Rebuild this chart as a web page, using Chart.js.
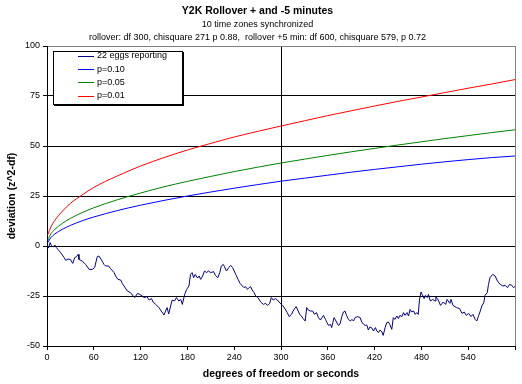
<!DOCTYPE html>
<html>
<head>
<meta charset="utf-8">
<script src="https://cdn.jsdelivr.net/npm/chart.js@4/dist/chart.umd.min.js"></script>
<style>
  html, body { margin: 0; padding: 0; background: #fff; }
  #wrap { width: 522px; height: 384px; }
</style>
</head>
<body>
<div id="wrap"><canvas id="c" width="522" height="384"></canvas></div>
<script>
// threshold curves
var curveDf = [1, 5, 10, 20, 30, 45, 60, 90, 120, 150, 180, 210, 240, 270, 300, 330, 360, 390, 420, 450, 480, 510, 540, 570, 600];
var p10 = [1.7, 4.2, 6.0, 8.4, 10.3, 12.6, 14.5, 17.7, 20.4, 22.8, 25.0, 27.0, 28.9, 30.7, 32.4, 33.9, 35.4, 36.9, 38.3, 39.6, 40.9, 42.1, 43.2, 44.2, 45.0];
var p05 = [2.8, 6.1, 8.3, 11.4, 13.8, 16.7, 19.1, 23.1, 26.5, 29.6, 32.3, 34.8, 37.2, 39.4, 41.5, 43.4, 45.3, 47.1, 48.8, 50.5, 52.1, 53.7, 55.2, 56.7, 58.1];
var p01 = [5.6, 9.5, 12.8, 17.5, 21.3, 25.5, 29.3, 35.0, 40.0, 44.2, 48.0, 51.3, 54.5, 57.3, 60.0, 62.6, 65.2, 67.6, 70.0, 72.3, 74.5, 76.7, 78.9, 81.0, 83.2];

// cumulative deviation of the eggs
var walkDf = [0, 2, 4, 5.5, 8, 10, 12, 14, 17.5, 22, 24, 27, 30, 33, 35.5, 38, 40, 41, 45, 49.5,
  54, 58, 61, 64.5, 66.5, 69.5, 73, 75, 79, 81.5, 86, 88, 91, 94.5, 96.5, 98.7, 103, 107, 110.5, 112.5,
  116, 119, 122, 124.5, 128, 131, 134, 136, 139.5, 143.5, 146.5, 150, 152, 154, 156, 158.5, 160.5, 163.5, 166, 169,
  171.5, 173.5, 176.5, 179, 182, 184, 186, 188, 190, 193, 195, 197, 199.5, 202, 204.5, 207, 210, 213.5, 216, 219,
  221.5, 223.5, 226, 227.5, 230, 233, 235.5, 238, 240, 242, 245, 247.5, 250.5, 252.5, 254.5, 257, 259, 261, 263, 265.5,
  267.5, 270.5, 274, 277.5, 280, 283, 285.5, 287.5, 290, 293, 295.5, 298.5, 302, 304.5, 308, 310.5, 313.5, 315.5, 317.5, 319.5,
  322, 324, 326, 328.5, 331, 333, 335, 337.5, 340.5, 343, 345.5, 348, 350.5, 352.5, 354.5, 357, 359, 361, 363.5, 365,
  366.5, 368, 370.5, 373.5, 375.5, 378, 380, 382, 384, 386.5, 389, 391, 393, 395, 398, 401.5, 403.5, 406, 408, 410,
  412, 414, 416, 418.5, 421, 423, 425, 427, 429.5, 431, 433.5, 435.5, 437.5, 439.5, 442, 444, 446, 448.5, 450.5, 452.5,
  455, 457, 459, 461.5, 463.5, 465.5, 467.5, 470, 472, 474, 476, 477.5, 479.5, 481, 483.5, 485, 487.5, 489, 491.5, 494.5,
  497.5, 498.5, 501.5, 504.5, 508, 511, 513, 516.5, 518, 520.5, 525, 529, 532, 535, 537.5, 540.5, 543.5, 546, 549, 551,
  553.5, 555.5, 557.5, 560, 561.5, 564.5, 566, 568, 571.5, 574.5, 577.5, 581, 584.5, 587.5, 590.5, 593, 596, 598, 600];
var walkDev = [0, -1, 1.7, 0.3, -0.5, 0.5, -0.8, -1.7, -3.3, -5.8, -7.2, -6.5, -6.7, -8.7, -5.8, -5.3, -4.2, -6.7, -7.5, -9.2,
  -11.7, -11.7, -10.8, -5.3, -5, -6.7, -9.2, -10, -10, -11.3, -13.3, -15, -16.7, -17, -18.7, -20, -22.5, -23.3, -25, -25.8,
  -23.7, -24.2, -25, -25.8, -25.3, -27, -26.3, -28, -29.2, -30.8, -32.5, -34.5, -32.5, -30.8, -34, -30, -27, -27.5, -25.8, -27.5,
  -26.7, -29.2, -24.2, -21.7, -20, -14.2, -13.3, -15.8, -14.2, -16, -15, -16.7, -15, -12.5, -13.3, -12.5, -13.3, -12.8, -14.7, -15.8,
  -13.3, -10, -9.2, -10.3, -12.5, -10.8, -9.7, -10.8, -12.5, -14.2, -16.7, -18.7, -20, -20.8, -20.3, -21.7, -20.8, -20.3, -22, -23.3,
  -25, -25.8, -28, -29.2, -28.7, -29.7, -28.7, -25.8, -27, -26.3, -27, -28.5, -29.7, -31, -33.3, -35.3, -34.2, -32.5, -31.3, -30.3,
  -32.5, -34.2, -35, -36.3, -37.5, -30.8, -32, -32.5, -32.5, -34.2, -33.3, -35.8, -37, -35.8, -34.7, -36.7, -38.3, -39.7, -39.2, -40.8,
  -38.3, -35.8, -37.5, -39.7, -39.2, -35.3, -33, -32.5, -34.7, -36.7, -37.5, -36.7, -37.5, -35.8, -35.3, -35.8, -38, -39.2, -39.7, -39.5,
  -42, -40.5, -40.8, -42.5, -40.8, -42.5, -43.3, -42, -43, -44.7, -40.8, -38.3, -38, -39.2, -41.7, -35.8, -36.7, -35, -36.3, -34.7,
  -35.3, -33.3, -34.7, -33.3, -35, -31.7, -33, -32.5, -34.2, -33.3, -34.2, -27, -23, -24.2, -26.3, -24.7, -25.8, -24.2, -27.5, -26.7,
  -27.5, -25.3, -27, -29.7, -28, -29.2, -26.7, -28.7, -26.7, -29.7, -30.8, -31.3, -33.7, -33, -34.7, -33.7, -35.3, -34.2, -36.7, -37.5,
  -34.7, -32.5, -30, -28.3, -24.7, -23.3, -19.2, -15.8, -14.2, -15, -17.5, -19.2, -20, -19.7, -20.8, -19.2, -19.7, -20.8, -20.3];

var seriesNames = ['22 eggs reporting', 'p=0.10', 'p=0.05', 'p=0.01'];
var seriesColors = ['#000080', '#0000ff', '#008000', '#ff0000'];

function pts(xs, ys) {
  return xs.map(function (x, i) { return { x: x, y: ys[i] }; });
}

Chart.defaults.font.family = "'Liberation Sans', Arial, sans-serif";
Chart.defaults.color = '#000';
Chart.defaults.animation = false;

// excel-style legend box sitting inside the plot
var boxLegend = {
  id: 'boxLegend',
  afterDatasetsDraw: function (chart) {
    var ctx = chart.ctx;
    var x = 53, y = 51, w = 129, h = 53;
    ctx.save();
    ctx.fillStyle = '#000';
    ctx.fillRect(x + 1, y + 1, w + 1, h + 1);
    ctx.fillStyle = '#fff';
    ctx.fillRect(x, y, w, h);
    ctx.strokeStyle = '#000';
    ctx.lineWidth = 1;
    ctx.strokeRect(x + 0.5, y + 0.5, w, h);
    ctx.font = "9px 'Liberation Sans', Arial, sans-serif";
    ctx.textBaseline = 'middle';
    ctx.textAlign = 'left';
    for (var i = 0; i < seriesNames.length; i++) {
      var ry = 56 + i * 13.2;
      ctx.strokeStyle = seriesColors[i];
      ctx.beginPath();
      ctx.moveTo(78, Math.round(ry) + 0.5);
      ctx.lineTo(94, Math.round(ry) + 0.5);
      ctx.stroke();
      ctx.fillStyle = '#000';
      ctx.fillText(seriesNames[i], 97, ry);
    }
    ctx.restore();
  }
};

new Chart(document.getElementById('c'), {
  type: 'line',
  data: {
    datasets: [
      { label: seriesNames[1], data: pts(curveDf, p10), borderColor: seriesColors[1], cubicInterpolationMode: 'monotone' },
      { label: seriesNames[2], data: pts(curveDf, p05), borderColor: seriesColors[2], cubicInterpolationMode: 'monotone' },
      { label: seriesNames[3], data: pts(curveDf, p01), borderColor: seriesColors[3], cubicInterpolationMode: 'monotone' },
      { label: seriesNames[0], data: pts(walkDf, walkDev), borderColor: seriesColors[0], tension: 0 }
    ]
  },
  options: {
    responsive: false,
    elements: { point: { radius: 0 }, line: { borderWidth: 1 } },
    layout: { padding: { left: 0, right: 7, top: 0, bottom: 0 } },
    plugins: {
      legend: { display: false },
      tooltip: { enabled: false },
      title: {
        display: true,
        text: 'Y2K Rollover + and -5 minutes',
        font: { size: 10.5, weight: 'bold' },
        padding: { top: 5, bottom: 0 }
      },
      subtitle: {
        display: true,
        text: ['10 time zones synchronized',
               'rollover: df 300, chisquare 271 p 0.88,  rollover +5 min: df 600, chisquare 579, p 0.72'],
        font: { size: 9, lineHeight: 1.5 },
        color: '#000',
        padding: { top: 0, bottom: 1.4 }
      }
    },
    scales: {
      x: {
        type: 'linear',
        min: 0, max: 600,
        afterFit: function (s) { s.height = 38; },
        ticks: {
          stepSize: 60, autoSkip: false, maxRotation: 0, padding: 2,
          font: { size: 9 },
          callback: function (v) { return v === 600 ? '' : v; }
        },
        grid: {
          color: function (c) {
            if (c.tick.value === 300) return '#000';
            if (c.tick.value === 600) return '#808080';
            return 'rgba(0,0,0,0)';
          },
          tickColor: '#000',
          tickLength: 4
        },
        border: { color: '#000' },
        title: {
          display: true,
          text: 'degrees of freedom or seconds',
          font: { size: 10.5, weight: 'bold' },
          padding: { top: 0, bottom: 4 }
        }
      },
      y: {
        min: -50, max: 100,
        afterFit: function (s) { s.width = 47; },
        ticks: { stepSize: 25, padding: 3, font: { size: 9 } },
        grid: {
          color: function (c) { return c.tick.value === 100 ? '#808080' : '#000'; },
          tickColor: '#000',
          tickLength: 4
        },
        border: { color: '#000' },
        title: {
          display: true,
          text: 'deviation (z^2-df)',
          font: { size: 10.5, weight: 'bold' },
          padding: { top: 6, bottom: 0 }
        }
      }
    }
  },
  plugins: [boxLegend]
});
</script>
</body>
</html>
